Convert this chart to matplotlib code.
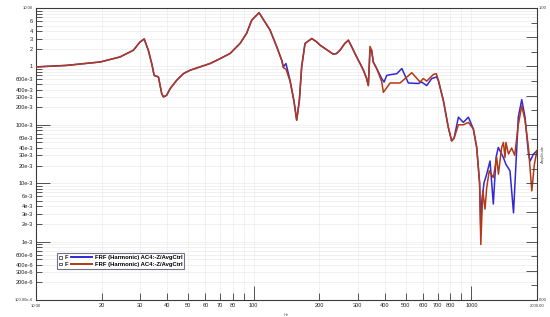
import matplotlib
matplotlib.use("Agg")
import matplotlib.pyplot as plt
from matplotlib.ticker import FixedLocator, NullFormatter, FixedFormatter
from matplotlib.legend_handler import HandlerBase
from matplotlib.patches import Rectangle
from matplotlib.lines import Line2D
from matplotlib.text import Text
import numpy as np

# Shared part of both FRF curves (10 Hz .. ~136 Hz)
freq_common = [10, 13.8, 19.7, 24.3, 28, 30, 31.4, 32.8, 34, 34.9, 36.5, 37.8, 38.5,
               39.8, 41.3, 44.3, 47.5, 51, 63, 67.6, 77.8, 86.5, 92.7, 97.9, 105.8,
               118.8, 127.6, 134.5]
amp_common = [0.98, 1.04, 1.19, 1.45, 1.89, 2.6, 2.95, 1.89, 1.12, 0.70, 0.66, 0.34, 0.30,
              0.32, 0.415, 0.58, 0.75, 0.86, 1.12, 1.27, 1.66, 2.47, 3.67, 6.2, 8.3,
              4.2, 2.16, 1.27]

freq_mid = [136.8, 140.6, 146.8, 153, 157.5, 162, 166, 172, 184.7, 194.5, 202, 224, 232,
            240, 249, 262, 272, 282, 297, 308, 319, 330, 336]
amp_mid_blue = [0.98, 1.12, 0.58, 0.26, 0.12, 0.26, 0.98, 2.47, 3.0, 2.63, 2.3, 1.77, 1.62,
                1.66, 1.89, 2.47, 2.81, 2.16, 1.45, 1.12, 0.86, 0.62, 0.47]
amp_mid_red = [0.95, 0.90, 0.56, 0.25, 0.12, 0.26, 0.98, 2.47, 3.0, 2.63, 2.3, 1.77, 1.62,
               1.66, 1.89, 2.47, 2.81, 2.16, 1.45, 1.12, 0.86, 0.62, 0.47]

# Blue series, high frequency part
freq_blue = [342, 348, 354, 367, 387, 397, 408, 423, 454, 479, 513, 570, 590, 623, 657,
             692, 705, 743, 783, 811, 832, 871, 918, 968, 1020, 1057, 1090, 1104, 1114,
             1142, 1175, 1217, 1260, 1297, 1328, 1376, 1402, 1440, 1503, 1560, 1641,
             1702, 1762, 1828, 1860, 1928, 2000]
amp_blue = [1.85, 1.89, 1.19, 0.92, 0.62, 0.54, 0.70, 0.72, 0.75, 0.92, 0.52, 0.51, 0.54,
            0.47, 0.62, 0.66, 0.57, 0.26, 0.09, 0.053, 0.059, 0.135, 0.11, 0.135, 0.085,
            0.041, 0.01, 0.0015, 0.0046, 0.0102, 0.0143, 0.024, 0.0044, 0.0275, 0.041,
            0.0316, 0.0275, 0.021, 0.0163, 0.0031, 0.135, 0.27, 0.135, 0.0316, 0.024,
            0.0316, 0.036]

# Red series, high frequency part
freq_red = [342, 348, 354, 367, 387, 394, 423, 470, 532, 581, 601, 623, 669, 690, 705,
            743, 783, 811, 832, 871, 918, 968, 1020, 1057, 1090, 1104, 1127, 1154, 1175,
            1207, 1260, 1306, 1330, 1376, 1402, 1426, 1440, 1479, 1530, 1580, 1641, 1702,
            1762, 1828, 1893, 1945, 2000]
amp_red = [2.2, 1.89, 1.19, 0.92, 0.55, 0.36, 0.52, 0.52, 0.78, 0.54, 0.62, 0.56, 0.73,
           0.75, 0.57, 0.26, 0.09, 0.053, 0.059, 0.10, 0.10, 0.11, 0.085, 0.041, 0.01,
           0.00089, 0.0074, 0.0036, 0.0084, 0.0163, 0.0125, 0.0275, 0.0143, 0.041, 0.05,
           0.0275, 0.05, 0.0316, 0.04, 0.03, 0.10, 0.21, 0.12, 0.04, 0.0074, 0.021, 0.036]

legend_labels = ["FRF (Harmonic) AC4:-Z/AvgCtrl", "FRF (Harmonic) AC4:-Z/AvgCtrl"]
legend_prefix = "F"
x_major = [100, 1000]
x_major_labels = ["100", "1000"]
x_minor = [20, 30, 40, 50, 60, 70, 80, 90, 200, 300, 400, 500, 600, 700, 800, 900]
x_minor_labels = ["20", "30", "40", "50", "60", "70", "80", "", "200", "300", "400",
                  "500", "600", "700", "800", ""]
y_major = [1e-3, 1e-2, 1e-1, 1]
y_major_labels = ["1e-3", "10e-3", "100e-3", "1"]
y_labels = {1: "1", 2: "2", 3: "3", 4: "4", 6: "6",
            0.1: "100e-3", 0.2: "200e-3", 0.3: "300e-3", 0.4: "400e-3", 0.6: "600e-3",
            0.01: "10e-3", 0.02: "20e-3", 0.03: "30e-3", 0.04: "40e-3", 0.06: "60e-3",
            0.001: "1e-3", 0.002: "2e-3", 0.003: "3e-3", 0.004: "4e-3", 0.006: "6e-3",
            0.0002: "200e-6", 0.0003: "300e-6", 0.0004: "400e-6", 0.0006: "600e-6"}

BLUE = "#3328d4"
RED = "#b23a16"
AXC = "#3a3a3a"

plt.rcParams['font.family'] = ['Liberation Sans', 'DejaVu Sans']

fig = plt.figure(figsize=(5.5, 3.17), dpi=100)
ax = fig.add_axes([36/550, 17/317, 501/550, 292/317])

fb = freq_common + freq_mid + freq_blue
ab = amp_common + amp_mid_blue + amp_blue
fr = freq_common + freq_mid + freq_red
ar = amp_common + amp_mid_red + amp_red

lb, = ax.plot(fb, ab, color=BLUE, lw=1.1, zorder=3)
lr, = ax.plot(fr, ar, color=RED, lw=1.1, zorder=4)

ax.set_xscale('log')
ax.set_yscale('log')
ax.set_xlim(10, 2000)
ax.set_ylim(1e-4, 10)

# x ticks
ax.xaxis.set_major_locator(FixedLocator(x_major))
ax.xaxis.set_major_formatter(FixedFormatter(x_major_labels))
ax.xaxis.set_minor_locator(FixedLocator(x_minor))
ax.xaxis.set_minor_formatter(FixedFormatter(x_minor_labels))
ax.tick_params(axis='x', which='major', direction='in', length=10, width=0.6,
               color=AXC, labelsize=4.1, pad=2, labelcolor='#222222')
ax.tick_params(axis='x', which='minor', direction='in', length=5, width=0.6,
               color=AXC, labelsize=4.1, pad=2, labelcolor='#222222')

# y ticks
minors = []
for d in [1e-4, 1e-3, 1e-2, 1e-1, 1]:
    for m in range(2, 10):
        minors.append(d * m)
ax.yaxis.set_major_locator(FixedLocator(y_major))
ax.yaxis.set_major_formatter(FixedFormatter(y_major_labels))
ax.yaxis.set_minor_locator(FixedLocator(minors))
ax.yaxis.set_minor_formatter(FixedFormatter([y_labels.get(round(v, 6), "") for v in minors]))
ax.tick_params(axis='y', which='major', direction='in', length=10, width=0.6,
               color=AXC, labelsize=4.1, pad=2, labelcolor='#222222')
ax.tick_params(axis='y', which='minor', direction='in', length=4, width=0.6,
               color=AXC, labelsize=4.1, pad=2, labelcolor='#222222')

ax.grid(True, which='both', color='#ebebeb', lw=0.5, zorder=0)
for s in ax.spines.values():
    s.set_color(AXC)
    s.set_linewidth(0.8)

# end labels
ax.text(0, -0.012, "10.00", transform=ax.transAxes, ha='center', va='top', fontsize=3, color='#333333')
ax.text(1, -0.012, "2000.00", transform=ax.transAxes, ha='center', va='top', fontsize=3, color='#333333')
ax.text(-0.006, 1.0, "10.00", transform=ax.transAxes, ha='right', va='center', fontsize=3, color='#333333')
ax.text(-0.006, 0.0, "100.00e-6", transform=ax.transAxes, ha='right', va='center', fontsize=3, color='#333333')
ax.text(0.5, -0.045, "Hz", transform=ax.transAxes, ha='center', va='top', fontsize=3, color='#555555')

# right axis
ax2 = ax.twinx()
ax2.set_ylim(0, 1)
ax2.yaxis.set_major_locator(FixedLocator(list(np.round(np.arange(0, 1.01, 0.1), 2))))
ax2.yaxis.set_minor_locator(FixedLocator(list(np.round(np.arange(0.05, 1.0, 0.1), 2))))
ax2.yaxis.set_major_formatter(NullFormatter())
ax2.tick_params(axis='y', which='major', direction='in', length=8, width=0.6, color=AXC)
ax2.tick_params(axis='y', which='minor', direction='in', length=4, width=0.6, color=AXC)
for s in ax2.spines.values():
    s.set_visible(False)
ax2.text(1.004, 1.0, "1.00", transform=ax2.transAxes, ha='left', va='center', fontsize=3, color='#333333')
ax2.text(1.004, 0.0, "0.00", transform=ax2.transAxes, ha='left', va='center', fontsize=3, color='#333333')
ax2.text(1.008, 0.5, "Amplitude", transform=ax2.transAxes, ha='left', va='center', rotation=90,
         fontsize=3, color='#555555')


class BoxFLineHandler(HandlerBase):
    def create_artists(self, legend, orig_handle, xdescent, ydescent, width, height,
                       fontsize, trans):
        h = height
        sq = 0.62 * h
        rect = Rectangle((-xdescent, -ydescent + (h - sq) / 2), sq, sq, facecolor='white',
                         edgecolor='#222222', lw=0.5, transform=trans)
        txt = Text(-xdescent + sq + 2.2, -ydescent + h / 2 - 0.2, legend_prefix,
                   fontsize=fontsize, fontweight='bold', va='center', ha='left',
                   color='#222222', transform=trans)
        x0 = -xdescent + 0.38 * width
        line = Line2D([x0, -xdescent + width], [-ydescent + h / 2] * 2,
                      color=orig_handle.get_color(), lw=1.4, transform=trans)
        return [rect, txt, line]


leg = ax.legend([lb, lr], legend_labels, loc='lower left',
                bbox_to_anchor=(21/501, 31/292),
                prop={'weight': 'bold', 'size': 4.2}, frameon=True, fancybox=False,
                borderpad=0.35, labelspacing=0.25, handlelength=5.6, handletextpad=0.5,
                borderaxespad=0, handler_map={Line2D: BoxFLineHandler()})
leg.get_frame().set_edgecolor('#505070')
leg.get_frame().set_linewidth(0.8)
leg.set_zorder(10)

fig.savefig("out.png", dpi=100)
